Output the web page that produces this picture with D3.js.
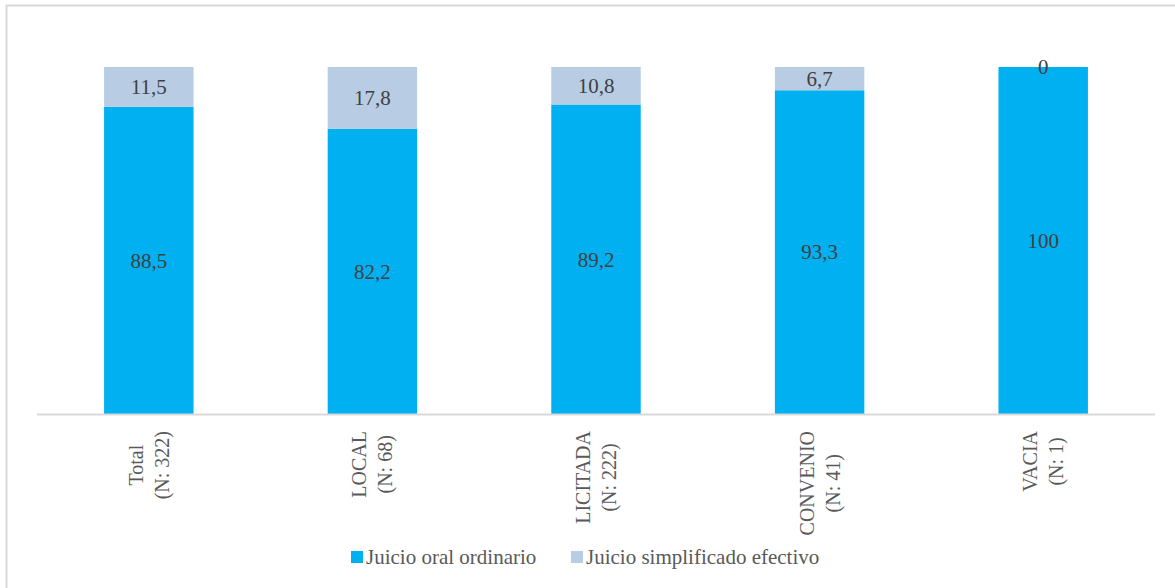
<!DOCTYPE html>
<html>
<head>
<meta charset="utf-8">
<script src="https://cdn.jsdelivr.net/npm/d3@7"></script>
<style>
  html, body { margin: 0; padding: 0; background: #fff; }
  svg { display: block; }
</style>
</head>
<body>
<svg id="chart" width="1175" height="588"></svg>
<script>
// Categories (two-line axis labels) and the share of each trial type, in percent
const categories = ["Total", "LOCAL", "LICITADA", "CONVENIO", "VACIA"];
const counts = ["(N: 322)", "(N: 68)", "(N: 222)", "(N: 41)", "(N: 1)"];
const juicioOral = [88.5, 82.2, 89.2, 93.3, 100];
const juicioSimplificado = [11.5, 17.8, 10.8, 6.7, 0];
const seriesNames = ["Juicio oral ordinario", "Juicio simplificado efectivo"];
const seriesColors = ["#00B0F0", "#B8CCE4"];

const svg = d3.select("#chart");

// Outer frame
svg.append("rect")
  .attr("x", 6.5).attr("y", 5.5)
  .attr("width", 1200).attr("height", 620)
  .attr("fill", "none")
  .attr("stroke", "#D9D9D9")
  .attr("stroke-width", 2);

const x = d3.scaleBand()
  .domain(categories)
  .range([37, 1155])
  .paddingInner(0.6)
  .paddingOuter(0.3);

const y = d3.scaleLinear().domain([0, 100]).range([414, 67]);

const keys = ["oral", "simp"];
const rows = categories.map((c, i) => ({
  cat: c, n: counts[i], oral: juicioOral[i], simp: juicioSimplificado[i]
}));

const stack = d3.stack().keys(keys)(rows);

const fmt = v => String(v).replace(".", ",");

const layers = svg.selectAll("g.layer")
  .data(stack)
  .join("g")
  .attr("class", "layer")
  .attr("fill", (d, i) => seriesColors[i]);

layers.selectAll("rect")
  .data(d => d)
  .join("rect")
  .attr("x", d => x(d.data.cat))
  .attr("width", x.bandwidth())
  .attr("y", d => y(d[1]))
  .attr("height", d => y(d[0]) - y(d[1]));

// Value labels centred in each segment
stack.forEach(layer => {
  svg.append("g").selectAll("text")
    .data(layer)
    .join("text")
    .attr("x", d => x(d.data.cat) + x.bandwidth() / 2)
    .attr("y", d => (y(d[0]) + y(d[1])) / 2)
    .attr("dy", "0.35em")
    .attr("text-anchor", "middle")
    .attr("font-family", "Liberation Serif, serif")
    .attr("font-size", 21)
    .attr("fill", "#404040")
    .text(d => fmt(d.data[layer.key]));
});

// Category axis baseline
svg.append("line")
  .attr("x1", 37).attr("x2", 1155)
  .attr("y1", 414.5).attr("y2", 414.5)
  .attr("stroke", "#D9D9D9")
  .attr("stroke-width", 2);

// Rotated two-line category labels; the longest line starts just below the axis
const axisG = svg.append("g");
rows.forEach(r => {
  const cx = x(r.cat) + x.bandwidth() / 2;
  const g = axisG.append("g");
  const lines = [r.cat, r.n];
  const texts = lines.map(s => g.append("text")
    .attr("font-family", "Liberation Serif, serif")
    .attr("font-size", 20)
    .attr("fill", "#595959")
    .attr("text-anchor", "middle")
    .text(s));
  const maxW = d3.max(texts, t => t.node().getComputedTextLength());
  const cy = 431 + maxW / 2;
  texts.forEach((t, i) => {
    const baseX = cx - 6 + i * 26;
    t.attr("transform", `translate(${baseX},${cy}) rotate(-90)`);
  });
});

// Legend
const legend = svg.append("g").attr("transform", "translate(0,557)");
const legendX = [351, 571];
seriesNames.forEach((name, i) => {
  legend.append("rect")
    .attr("x", legendX[i]).attr("y", -6)
    .attr("width", 12).attr("height", 12)
    .attr("fill", seriesColors[i]);
  legend.append("text")
    .attr("x", legendX[i] + 15).attr("y", 0)
    .attr("dy", "0.35em")
    .attr("font-family", "Liberation Serif, serif")
    .attr("font-size", 21)
    .attr("fill", "#595959")
    .text(name);
});
</script>
</body>
</html>
